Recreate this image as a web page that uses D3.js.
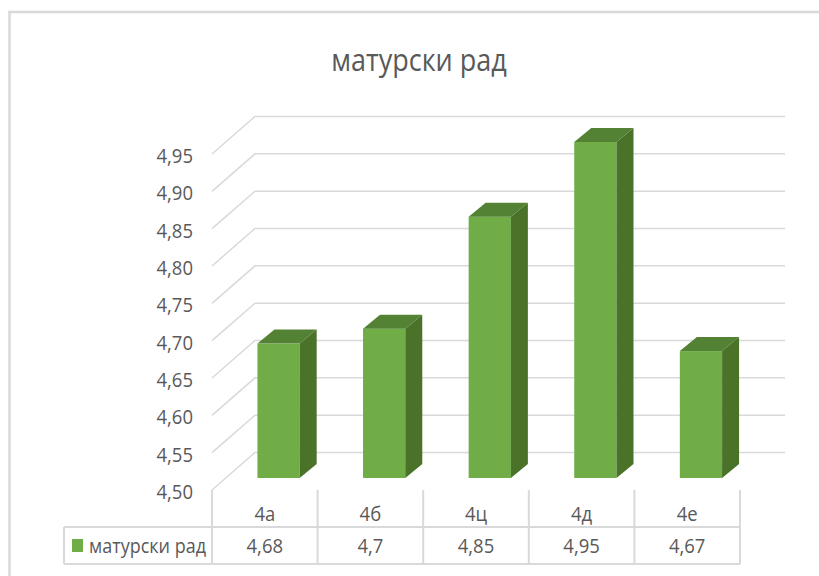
<!DOCTYPE html>
<html>
<head>
<meta charset="utf-8">
<script src="https://cdn.jsdelivr.net/npm/d3@7"></script>
<style>
  body { margin: 0; background: #fff; }
  text { font-family: "Open Sans", sans-serif; fill: #595959; }
</style>
</head>
<body>
<div id="chart"></div>
<script>
// data
const chartTitle = "матурски рад";
const seriesName = "матурски рад";
const categories = ["4а", "4б", "4ц", "4д", "4е"];
const values = [4.68, 4.7, 4.85, 4.95, 4.67];
const valueLabels = ["4,68", "4,7", "4,85", "4,95", "4,67"];
const yTicks = [4.50, 4.55, 4.60, 4.65, 4.70, 4.75, 4.80, 4.85, 4.90, 4.95];
const yTickLabels = ["4,50", "4,55", "4,60", "4,65", "4,70", "4,75", "4,80", "4,85", "4,90", "4,95"];

const W = 819, H = 576;
const grid = "#d9d9d9";
const depthX = 43, depthY = -37.5;   // depth of the side wall
const barDX = 17, barDY = -14;       // depth of each bar
const barShift = 0.32;               // bars sit a bit back from the front edge
const stretch = 1.12;                // text in the picture is a little tall

const svg = d3.select("#chart").append("svg")
  .attr("width", W)
  .attr("height", H);

// place text at (px,py) with a slight vertical stretch
function place(sel, px, py) {
  sel.attr("transform", function(d, i) {
    var a = typeof px === "function" ? px(d, i) : px;
    var b = typeof py === "function" ? py(d, i) : py;
    return "translate(" + a + "," + b + ") scale(1," + stretch + ")";
  });
  return sel;
}

// outer chart border (right and bottom run off the picture)
svg.append("rect")
  .attr("x", 9.5).attr("y", 12)
  .attr("width", 830).attr("height", 600)
  .attr("fill", "none")
  .attr("stroke", grid)
  .attr("stroke-width", 2.5);

// title
place(svg.append("text"), 419, 71)
  .attr("text-anchor", "middle")
  .style("font-size", "27px")
  .text(chartTitle);

// scales
var x = d3.scaleBand()
  .domain(categories)
  .range([212, 740]);

var y = d3.scaleLinear()
  .domain([4.5, 4.95])
  .range([490, 154]);

const bw = x.bandwidth();
const left = x.range()[0], right = x.range()[1];

// side wall diagonals + back wall lines
var gridG = svg.append("g")
  .attr("fill", "none")
  .attr("stroke", grid)
  .attr("stroke-width", 1.5);

gridG.selectAll("path.tick")
  .data(yTicks)
  .enter()
  .append("path")
    .attr("d", function(d) {
      return "M" + left + "," + y(d) +
        "L" + (left + depthX) + "," + (y(d) + depthY) +
        "L" + (right + depthX + 2) + "," + (y(d) + depthY);
    });

// y labels
place(svg.append("g")
  .selectAll("text")
  .data(yTicks)
  .enter()
  .append("text"), 193, function(d) { return y(d) + 9; })
    .attr("text-anchor", "end")
    .style("font-size", "18.5px")
    .text(function(d, i) { return yTickLabels[i]; });

// bars
var bars = svg.append("g")
  .selectAll("g")
  .data(values)
  .enter()
  .append("g");

function barBox(d, i) {
  var x0 = x(categories[i]) + bw * 0.3 + barShift * depthX;
  var x1 = x0 + bw * 0.4;
  var yb = y(4.5) + barShift * depthY;
  var yt = y(d) + barShift * depthY;
  return { x0: x0, x1: x1, yb: yb, yt: yt };
}

bars.append("rect")
  .attr("x", function(d, i) { return barBox(d, i).x0; })
  .attr("y", function(d, i) { return barBox(d, i).yt; })
  .attr("width", bw * 0.4)
  .attr("height", function(d, i) { var b = barBox(d, i); return b.yb - b.yt; })
  .style("fill", "#70ad47");

bars.append("path")
  .attr("d", function(d, i) {
    var b = barBox(d, i);
    return "M" + b.x0 + "," + b.yt + "L" + b.x1 + "," + b.yt +
      "L" + (b.x1 + barDX) + "," + (b.yt + barDY) +
      "L" + (b.x0 + barDX) + "," + (b.yt + barDY) + "Z";
  })
  .style("fill", "#548235");

bars.append("path")
  .attr("d", function(d, i) {
    var b = barBox(d, i);
    return "M" + b.x1 + "," + b.yt +
      "L" + (b.x1 + barDX) + "," + (b.yt + barDY) +
      "L" + (b.x1 + barDX) + "," + (b.yb + barDY) +
      "L" + b.x1 + "," + b.yb + "Z";
  })
  .style("fill", "#4a7229");

// data table under the plot
const rowTop = 527, rowBottom = 564, tableLeft = 64;
var table = svg.append("g")
  .attr("stroke", grid)
  .attr("stroke-width", 2)
  .attr("fill", "none");

table.append("path")
  .attr("d", "M" + tableLeft + "," + rowTop + "H" + right +
    "M" + tableLeft + "," + rowBottom + "H" + right +
    "M" + tableLeft + "," + rowTop + "V" + rowBottom);

table.selectAll("line.col")
  .data(categories.map(function(c) { return x(c); }).concat([right]))
  .enter()
  .append("line")
    .attr("x1", function(d) { return d; })
    .attr("x2", function(d) { return d; })
    .attr("y1", y(4.5))
    .attr("y2", rowBottom);

place(svg.append("g")
  .selectAll("text")
  .data(categories)
  .enter()
  .append("text"), function(d) { return x(d) + bw / 2; }, 521)
    .attr("text-anchor", "middle")
    .style("font-size", "18.5px")
    .text(function(d) { return d; });

place(svg.append("g")
  .selectAll("text")
  .data(valueLabels)
  .enter()
  .append("text"), function(d, i) { return x(categories[i]) + bw / 2; }, 553)
    .attr("text-anchor", "middle")
    .style("font-size", "18.5px")
    .text(function(d) { return d; });

// legend key inside the table
svg.append("rect")
  .attr("x", 72).attr("y", 539)
  .attr("width", 11).attr("height", 13)
  .style("fill", "#70ad47");

place(svg.append("text"), 89, 553)
  .style("font-size", "18px")
  .text(seriesName);
</script>
</body>
</html>
